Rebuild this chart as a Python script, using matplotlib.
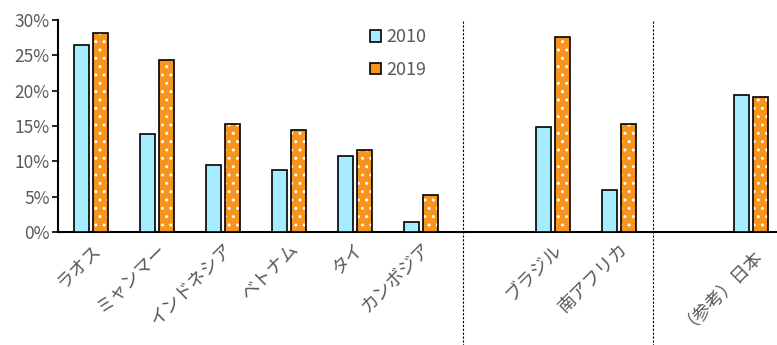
import numpy as np
import matplotlib.pyplot as plt
from matplotlib.patches import Patch
from matplotlib.ticker import FuncFormatter

plt.rcParams['font.family'] = ['Noto Sans CJK JP', 'DejaVu Sans']

# data
countries = ["ラオス", "ミャンマー", "インドネシア", "ベトナム", "タイ", "カンボジア",
             "", "ブラジル", "南アフリカ", "", "（参考）日本"]
v2010 = [26.4, 13.9, 9.5, 8.8, 10.8, 1.4, np.nan, 14.8, 5.9, np.nan, 19.4]
v2019 = [28.2, 24.3, 15.3, 14.4, 11.6, 5.2, np.nan, 27.6, 15.3, np.nan, 19.1]
yticks = [0, 5, 10, 15, 20, 25, 30]
separators = [5.64, 8.52]

blue = "#A6ECFF"
orange = "#F7941D"
gray = "#595959"

fig = plt.figure(figsize=(7.77, 3.45), dpi=100)
ax = fig.add_axes([0.0746, 0.328, 0.9254, 0.614])

x = np.arange(len(countries))
w = 0.227
off = 0.144

ax.bar(x - off, v2010, w, color=blue, edgecolor="black", linewidth=1.2, zorder=3)
# hatched orange: white dots drawn first, black outline on top
ax.bar(x + off, v2019, w, color=orange, edgecolor="white", hatch="..", linewidth=0, zorder=3)
ax.bar(x + off, v2019, w, color="none", edgecolor="black", linewidth=1.2, zorder=4)

for s in separators:
    ax.axvline(s, ymin=-0.55, ymax=1.0, color="black", linestyle=(0, (2, 1.5)),
               linewidth=0.8, clip_on=False, zorder=2)

ax.set_xlim(-0.5, 10.4)
ax.set_ylim(0, 30)
ax.set_yticks(yticks)
ax.yaxis.set_major_formatter(FuncFormatter(lambda v, p: f"{v:.0f}%"))
ax.set_xticks(x)
ax.set_xticklabels(countries, rotation=45, ha="right", rotation_mode="anchor",
                   fontsize=13, color=gray)
ax.tick_params(axis="x", length=0, pad=6)
ax.tick_params(axis="y", labelsize=12.5, labelcolor=gray, length=4, width=1.2, direction="out", pad=2)

for side in ["top", "right"]:
    ax.spines[side].set_visible(False)
ax.spines["left"].set_linewidth(1.5)
ax.spines["bottom"].set_linewidth(1.5)

handles = [Patch(facecolor=blue, edgecolor="black", linewidth=1.2),
           Patch(facecolor=orange, edgecolor="black", linewidth=1.2)]
fig.legend(handles, ["2010", "2019"], loc="upper left", bbox_to_anchor=(0.455, 0.965),
           frameon=False, handlelength=0.6, handleheight=0.6, handletextpad=0.3,
           labelspacing=0.8, prop={"size": 13}, labelcolor=gray)

fig.savefig("out.png", dpi=100)
